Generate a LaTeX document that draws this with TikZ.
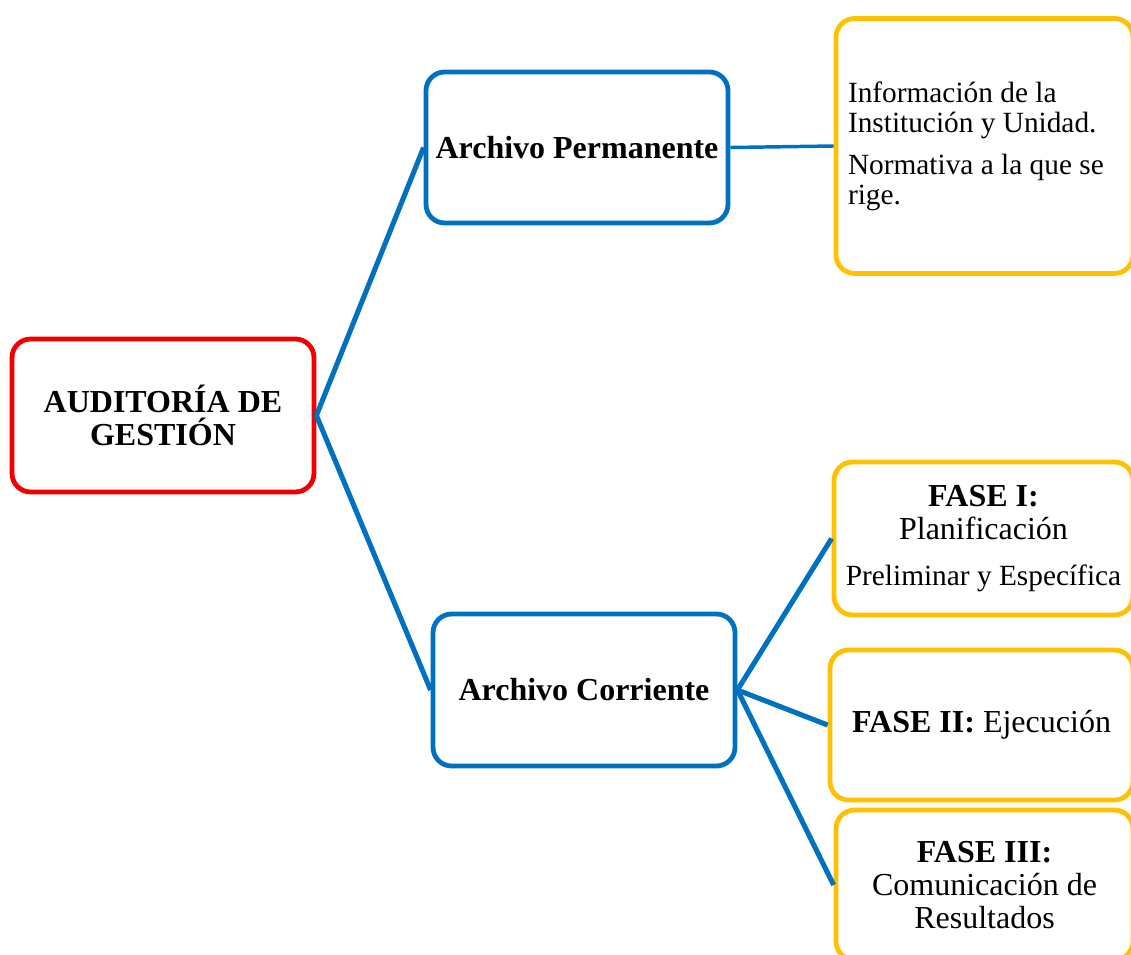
\documentclass[tikz,border=0pt]{standalone}
\usepackage{fontspec}
\setmainfont{Liberation Serif}
\usetikzlibrary{positioning}
\definecolor{rojo}{RGB}{240,0,0}
\definecolor{azul}{RGB}{0,112,192}
\definecolor{amarillo}{RGB}{255,192,0}
\tikzset{caja/.style = {draw, rounded corners=14pt, line width=3.6pt, fill=white, inner sep=0pt, align=center}}
\tikzset{rama/.style = {draw=azul, line width=3.8pt}}
\newcommand{\grande}{\fontsize{24}{25}\selectfont}
\newcommand{\chico}{\fontsize{22}{22.5}\selectfont}

\begin{document}
\begin{tikzpicture}[x=0.75pt, y=-0.75pt, font=\grande]
	\useasboundingbox (0,0) rectangle (1131,955);
	
	\node[caja, draw=rojo, minimum width=226.5pt, minimum height=114.75pt, font=\grande\bfseries]	(raiz) at (163,415.5) {AUDITORÍA DE\\GESTIÓN};
	\node[caja, draw=azul, minimum width=226.5pt, minimum height=113.25pt, font=\grande\bfseries]	(perm) at (577,147.5) {Archivo Permanente};
	\node[caja, draw=azul, minimum width=226.5pt, minimum height=114pt, font=\grande\bfseries]	(corr) at (584,690) {Archivo Corriente};
	
	\node[caja, draw=amarillo, align=flush left, text width=204.75pt, inner xsep=9pt, minimum height=191.25pt, font=\chico]	(info) at (984.5,146) {Información de la\\Institución y Unidad.\\[9pt]Normativa a la que se\\rige.};
	\node[caja, draw=amarillo, minimum width=224.25pt, minimum height=114.75pt]	(fase1) at (983.5,538.5) {\textbf{FASE I:}\\Planificación\\[9pt]{\chico Preliminar y Específica}};
	\node[caja, draw=amarillo, minimum width=227.25pt, minimum height=112.5pt]	(fase2) at (981.5,725) {\textbf{FASE II:} Ejecución};
	\node[caja, draw=amarillo, minimum width=222.75pt, minimum height=112.5pt]	(fase3) at (984.5,885) {\textbf{FASE III:}\\Comunicación de\\Resultados};
	
	\draw[rama]	(raiz.east) -- (perm.west);
	\draw[rama]	(raiz.east) -- (corr.west);
	\draw[rama, line width=2.6pt]	(perm.east) -- (info.west);
	\draw[rama]	(corr.east) -- (fase1.west);
	\draw[rama]	(corr.east) -- (fase2.west);
	\draw[rama]	(corr.east) -- (fase3.west);
\end{tikzpicture}
\end{document}
